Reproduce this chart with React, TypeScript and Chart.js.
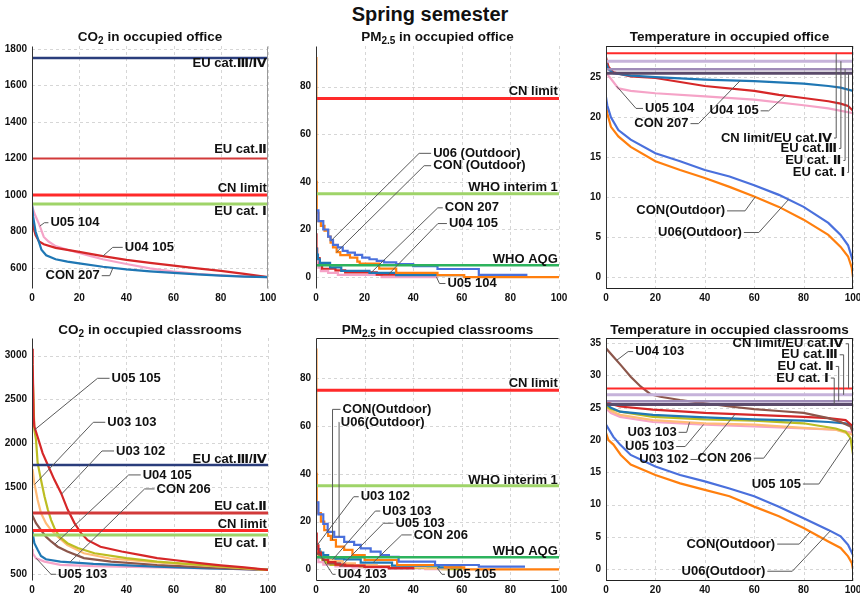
import React, { useEffect, useRef } from 'react';
import { Chart, registerables } from 'chart.js';
Chart.register(...registerables);

type Pt = [number, number];

const FONT = '"Liberation Sans", Arial, "DejaVu Sans", "Noto Sans CJK SC", sans-serif';

// ---------------- tick labels ----------------
const X_TICKS = [0, 20, 40, 60, 80, 100];
const CO2_OFFICE_Y_TICKS = [600, 800, 1000, 1200, 1400, 1600, 1800];
const PM_Y_TICKS = [0, 20, 40, 60, 80];
const TEMP_OFFICE_Y_TICKS = [0, 5, 10, 15, 20, 25];
const CO2_CLASS_Y_TICKS = [500, 1000, 1500, 2000, 2500, 3000];
const TEMP_CLASS_Y_TICKS = [0, 5, 10, 15, 20, 25, 30, 35];

// ---------------- limits ----------------
const CO2_EU_III_IV = 1750;
const CO2_EU_II = 1200;
const CO2_CN = 1000;
const CO2_EU_I = 950;
const PM_CN = 75;
const PM_WHO_IT1 = 35;
const PM_WHO_AQG = 5;
const T_CN_EU_IV = 28;
const T_EU_III = 27;
const T_EU_II = 26;
const T_EU_I = 25.5;

// ---------------- CO2 office ----------------
const co2Off_CON207: Pt[] = [[0, 950], [0.5, 880], [1.5, 800], [3, 740], [4, 700], [6, 670], [10, 648], [15, 635], [20, 625], [30, 607], [40, 593], [50, 582], [60, 573], [70, 565], [80, 558], [90, 553], [100, 550]];
const co2Off_U04105: Pt[] = [[0, 910], [0.5, 830], [1.5, 780], [3, 745], [5, 730], [10, 710], [20, 688], [30, 665], [40, 645], [50, 628], [60, 613], [70, 598], [80, 584], [90, 568], [100, 550]];
const co2Off_U05104: Pt[] = [[0, 940], [1, 900], [2, 870], [3, 840], [5, 770], [7, 745], [10, 720], [15, 700], [20, 682], [25, 665], [30, 648], [40, 622], [50, 598], [60, 580], [70, 568], [80, 560], [90, 554], [100, 550]];

// ---------------- PM2.5 office ----------------
const pmOff_CONOut: Pt[] = [[0, 92], [0.15, 40], [0.3, 27], [1, 23.5], [2, 21.5], [3.5, 19.5], [5, 17], [6, 14.5], [7, 12.5], [8.5, 10.5], [10, 9.2], [14, 8.2], [17, 6.5], [18, 5.7], [26, 3.6], [33, 1.8], [50, 0.8], [61, 0], [100, 0]];
const pmOff_U06Out: Pt[] = [[0, 28], [1, 23.5], [3, 20], [5, 17], [6, 15.5], [7, 13.5], [9, 12.5], [11, 11], [13, 10.3], [16, 9.3], [19, 8.2], [22, 7.5], [25, 6.8], [28, 6.2], [33, 5.5], [40, 4.6], [50, 3.4], [67, 0.9], [87, 0.9]];
const pmOff_CON207: Pt[] = [[0, 12], [0.3, 9.5], [0.8, 7.5], [1.6, 6], [5.8, 4.1], [10.4, 2.6], [22, 1.8], [33, 0.8], [61, 0.8]];
const pmOff_U04105: Pt[] = [[0, 18], [0.2, 12], [0.5, 8], [1.5, 5], [2.5, 3.5], [8, 2.8], [12, 2], [25, 1], [36, 1]];
const pmOff_U05104: Pt[] = [[0, 10], [0.3, 6], [1, 4], [2, 2.5], [5, 1.8], [9, 0.9], [27, 0], [50, 0]];

// ---------------- Temperature office ----------------
const tOff_CON207: Pt[] = [[0, 26.8], [1, 26], [3, 25.5], [10, 25.2], [20, 25.0], [40, 24.7], [60, 24.5], [80, 24.2], [90, 23.9], [95, 23.7], [100, 23.3]];
const tOff_U04105: Pt[] = [[0, 27.5], [1, 26.3], [3, 25.6], [10, 25.1], [20, 24.9], [40, 23.9], [60, 23.3], [70, 22.8], [80, 22.4], [90, 22.0], [95, 21.7], [98, 21.4], [100, 20.8]];
const tOff_U05104: Pt[] = [[0, 25.5], [1.5, 25], [3, 24.4], [5, 23.6], [10, 23.3], [20, 23.0], [40, 22.6], [60, 22.2], [80, 21.5], [90, 21.1], [100, 20.5]];
const tOff_CONOut: Pt[] = [[0, 21.5], [0.5, 20.5], [2, 18.8], [5, 17.6], [10, 16.3], [20, 14.5], [30, 13.4], [40, 12.4], [50, 11.3], [60, 10.1], [70, 8.8], [80, 7.2], [90, 5.3], [95, 3.8], [98, 2.6], [99.5, 1.2], [100, 0]];
const tOff_U06Out: Pt[] = [[0, 22.5], [0.5, 21.5], [2, 20], [5, 18.4], [10, 17.2], [20, 15.5], [30, 14.5], [40, 13.4], [50, 12.6], [60, 11.5], [70, 10.3], [80, 8.8], [90, 6.8], [95, 5.3], [98, 4], [100, 2]];

// ---------------- CO2 classrooms ----------------
const co2Cls_U03102: Pt[] = [[0, 3080], [0.3, 2900], [0.7, 2300], [1, 2190], [2.4, 2070], [4.5, 1885], [6.7, 1750], [9.5, 1580], [12.3, 1430], [15.1, 1240], [18, 1085], [20.8, 970], [23.6, 890], [29, 815], [38, 760], [48, 710], [53, 685], [60, 663], [70, 630], [80, 602], [90, 578], [100, 550]];
const co2Cls_U05105: Pt[] = [[0, 2950], [0.5, 2600], [1, 2150], [1.7, 2040], [2.4, 1770], [3.8, 1580], [5.3, 1390], [6.7, 1240], [8.1, 1120], [9.5, 1030], [11.6, 930], [15, 855], [19.4, 800], [26.5, 740], [40, 685], [53, 645], [60, 630], [70, 610], [80, 590], [90, 570], [100, 550]];
const co2Cls_U03103: Pt[] = [[0, 1700], [0.3, 1690], [1, 1540], [2.4, 1350], [3.8, 1200], [5.9, 1085], [8.1, 1005], [10.9, 930], [15, 835], [22, 740], [33, 680], [53, 635], [70, 605], [85, 578], [100, 550]];
const co2Cls_U04105: Pt[] = [[0, 1180], [1.7, 1085], [3.8, 1005], [5.9, 930], [8.1, 875], [10.9, 815], [15, 760], [22, 685], [33.5, 645], [53, 606], [70, 585], [85, 565], [100, 550]];
const co2Cls_CON206: Pt[] = [[0, 1000], [0.3, 970], [1, 855], [2.4, 780], [3.8, 710], [5.9, 672], [12, 645], [26, 618], [53, 588], [75, 568], [100, 552]];
const co2Cls_U05103: Pt[] = [[0, 790], [0.3, 740], [1.7, 683], [5.3, 645], [12, 608], [26, 592], [53, 578], [80, 565], [100, 552]];

// ---------------- PM2.5 classrooms ----------------
const pmCls_CONOut: Pt[] = [[0, 92], [0.15, 40], [0.3, 28], [0.7, 23.5], [2, 20], [3.4, 16.4], [5, 14], [6.1, 12.3], [8.2, 9.5], [11.6, 8.1], [15, 6.0], [20, 3.9], [33.4, 1.8], [53, 0.8], [61, 0], [100, 0]];
const pmCls_U06Out: Pt[] = [[0, 28], [1, 23], [3, 19], [4.8, 15.7], [7.5, 13.6], [11.6, 11.5], [15.7, 10.2], [18.4, 8.8], [22.5, 7.4], [26.6, 6.0], [30, 5.2], [34, 3.2], [49, 1.8], [67, 1.1], [86, 1.1]];
const pmCls_U03102: Pt[] = [[0, 15], [0.3, 10], [1, 7], [2, 5], [3, 4], [5, 3], [8, 2], [12, 1.5], [20, 1], [30, 0.5], [40, 0]];
const pmCls_U03103: Pt[] = [[0, 9], [0.5, 7.5], [2, 6], [4, 5], [6, 4], [8, 3.5], [11, 2.5], [16, 1.8], [25, 1.2], [35, 0.8], [45, 0.3], [55, 0]];
const pmCls_U05103: Pt[] = [[0, 5], [1, 3], [3, 2], [8, 1.2], [15, 0.8], [30, 0.4], [45, 0.1], [55, 0]];
const pmCls_CON206: Pt[] = [[0, 10.5], [0.5, 8.5], [1.5, 7], [3, 6], [5, 5], [8, 4.5], [11.6, 4.2], [18.4, 2.8], [31.3, 1.5], [50.5, 0.8], [60, 0.8]];
const pmCls_U04103: Pt[] = [[0, 8], [0.5, 6.5], [1.5, 5.3], [3, 4], [5, 2.5], [10, 1.5], [20, 1], [30, 0.5], [40, 0]];
const pmCls_U05105: Pt[] = [[0, 7.5], [1, 5.5], [2.5, 4], [4, 2.8], [6, 1.8], [18, 1.2], [40, 0.6], [52, 0.1], [60, 0]];

// ---------------- Temperature classrooms ----------------
const tCls_U04103: Pt[] = [[0, 34.2], [3, 32.9], [6, 31.6], [10, 29.8], [14, 28.3], [18, 27.1], [22, 26.7], [30, 26.2], [40, 25.7], [50, 25.2], [60, 24.8], [70, 24.5], [80, 24.2], [90, 23.4], [95, 22.8], [99, 22.1], [100, 21.1]];
const tCls_U03102: Pt[] = [[0, 26.1], [2, 25.6], [5.7, 25.2], [19, 24.7], [40, 24.2], [60, 23.9], [80, 23.6], [90, 23.4], [97, 23.1], [100, 22.1]];
const tCls_CON206: Pt[] = [[0, 25.6], [2, 25], [5.7, 24.4], [19, 23.9], [40, 23.5], [60, 23.2], [80, 23.0], [90, 22.8], [97, 22.6], [100, 22.2]];
const tCls_U05105: Pt[] = [[0, 25.2], [2, 24.8], [5.7, 24.4], [19, 23.6], [40, 23.2], [60, 23.0], [80, 22.6], [93, 21.8], [97, 21.3], [99, 20.3], [100, 17.8]];
const tCls_U03103: Pt[] = [[0, 25.2], [2, 24.5], [5.7, 23.9], [19, 23.1], [40, 22.6], [60, 22.4], [80, 21.9], [93, 21.6], [100, 20.8]];
const tCls_U05103: Pt[] = [[0, 24.9], [2, 24.2], [5.7, 23.6], [19, 22.8], [40, 22.4], [60, 22.1], [80, 21.8], [93, 21.6], [100, 21.1]];
const tCls_CONOut: Pt[] = [[0, 21.1], [1, 20], [3, 19.3], [6, 17.7], [10, 16.2], [20, 14.6], [30, 13.3], [40, 12.3], [50, 11.3], [60, 9.7], [70, 8.2], [80, 6.4], [90, 4.3], [95, 3.3], [98, 2.0], [99.5, 1], [100, 0]];
const tCls_U06Out: Pt[] = [[0, 22.4], [3, 20.5], [5.7, 19.3], [10, 17.7], [20, 15.9], [30, 14.6], [40, 13.6], [50, 12.5], [60, 11.3], [70, 9.7], [80, 7.9], [90, 6.1], [95, 5.1], [98, 3.8], [100, 2.2]];

// ---------------- styles ----------------
const C = {
  red: '#d62728', pink: '#f5a3c7', dblue: '#1f77b4', orange: '#ff7f0e', rblue: '#4a70dc',
  olive: '#bcbd22', peach: '#ffbb78', brown: '#8c564b',
  cn: '#ff2a2a', eu2: '#d23a3a', lgreen: '#9fd468', who: '#2db35d', navy: '#2a3d7c',
  t27: '#c6b3da', t26: '#9f8cb8', t255: '#5b4b6b',
};

interface SeriesDef { name: string; data: Pt[]; color: string; stepped?: boolean; }
interface Thr { value: number; color: string; width: number; }
interface Ann { text: string; tx: number; ty: number; side?: 'left' | 'right'; at?: number; series?: string; py?: number; mode?: 'elbow' | 'vertical'; elbow?: number; }
interface PanelDef { title: React.ReactNode; titleY: number; box: [number, number, number, number]; yMin: number; yMax: number; yTicks: number[]; series: SeriesDef[]; thresholds: Thr[]; labels: Ann[]; frame: 'none' | 'box' | 'topbottom' | 'right'; }

const Sub = ({ children }: { children: React.ReactNode }) => (
  <span style={{ fontSize: '0.74em', position: 'relative', top: '0.3em' }}>{children}</span>
);

const PANELS: PanelDef[] = [
  {
    title: <>CO<Sub>2</Sub> in occupied office</>, titleY: 37, box: [32, 46, 268, 289], yMin: 485, yMax: 1816, yTicks: CO2_OFFICE_Y_TICKS, frame: 'right',
    series: [
      { name: 'U05 104', data: co2Off_U05104, color: C.pink },
      { name: 'U04 105', data: co2Off_U04105, color: C.red },
      { name: 'CON 207', data: co2Off_CON207, color: C.dblue },
    ],
    thresholds: [
      { value: CO2_EU_III_IV, color: C.navy, width: 2.5 }, { value: CO2_EU_II, color: C.eu2, width: 2 },
      { value: CO2_CN, color: C.cn, width: 3 }, { value: CO2_EU_I, color: C.lgreen, width: 3 },
    ],
    labels: [
      { text: 'EU cat.Ⅲ/Ⅳ', tx: 99.5, ty: 1718, side: 'right' },
      { text: 'EU cat.Ⅱ', tx: 99.5, ty: 1247, side: 'right' },
      { text: 'CN limit', tx: 99.5, ty: 1037, side: 'right' },
      { text: 'EU cat. Ⅰ', tx: 99.5, ty: 908, side: 'right' },
      { text: 'U05 104', tx: 7.8, ty: 848, side: 'left', at: 3.3, series: 'U05 104', elbow: 4 },
      { text: 'U04 105', tx: 39.3, ty: 713, side: 'left', at: 30, series: 'U04 105', elbow: 10 },
      { text: 'CON 207', tx: 28.7, ty: 558, side: 'right', at: 34.3, series: 'CON 207', elbow: 8 },
    ],
  },
  {
    title: <>PM<Sub>2.5</Sub> in occupied office</>, titleY: 37, box: [316, 46, 559, 289], yMin: -5.0, yMax: 97.1, yTicks: PM_Y_TICKS, frame: 'none',
    series: [
      { name: 'U05 104', data: pmOff_U05104, color: C.pink, stepped: true },
      { name: 'U04 105', data: pmOff_U04105, color: C.red, stepped: true },
      { name: 'CON 207', data: pmOff_CON207, color: C.dblue, stepped: true },
      { name: 'CON (Outdoor)', data: pmOff_CONOut, color: C.orange, stepped: true },
      { name: 'U06 (Outdoor)', data: pmOff_U06Out, color: C.rblue, stepped: true },
    ],
    thresholds: [
      { value: PM_CN, color: C.cn, width: 3 }, { value: PM_WHO_IT1, color: C.lgreen, width: 3 }, { value: PM_WHO_AQG, color: C.who, width: 2.5 },
    ],
    labels: [
      { text: 'CN limit', tx: 99.5, ty: 77.9, side: 'right' },
      { text: 'WHO interim 1', tx: 99.5, ty: 37.5, side: 'right' },
      { text: 'WHO AQG', tx: 99.5, ty: 7.4, side: 'right' },
      { text: 'U06 (Outdoor)', tx: 48.2, ty: 52, side: 'left', at: 6.4, series: 'U06 (Outdoor)', elbow: 12 },
      { text: 'CON (Outdoor)', tx: 48.2, ty: 46.8, side: 'left', at: 8.5, series: 'CON (Outdoor)', elbow: 7 },
      { text: 'CON 207', tx: 53, ty: 29.1, side: 'left', at: 22.6, series: 'CON 207', elbow: 5 },
      { text: 'U04 105', tx: 54.7, ty: 22.5, side: 'left', at: 29.7, series: 'U04 105', elbow: 9 },
      { text: 'U05 104', tx: 54.1, ty: -2.7, side: 'left', at: 49.6, series: 'U05 104', elbow: 6 },
    ],
  },
  {
    title: <>Temperature in occupied office</>, titleY: 37, box: [606, 46, 853, 289], yMin: -1.46, yMax: 28.9, yTicks: TEMP_OFFICE_Y_TICKS, frame: 'box',
    series: [
      { name: 'U05 104', data: tOff_U05104, color: C.pink },
      { name: 'U04 105', data: tOff_U04105, color: C.red },
      { name: 'CON 207', data: tOff_CON207, color: C.dblue },
      { name: 'CON(Outdoor)', data: tOff_CONOut, color: C.orange },
      { name: 'U06(Outdoor)', data: tOff_U06Out, color: C.rblue },
    ],
    thresholds: [
      { value: T_CN_EU_IV, color: C.cn, width: 2 }, { value: T_EU_III, color: C.t27, width: 3 },
      { value: T_EU_II, color: C.t26, width: 2.5 }, { value: T_EU_I, color: C.t255, width: 3 },
    ],
    labels: [
      { text: 'CN limit/EU cat.Ⅳ', tx: 91.5, ty: 17.4, side: 'right', at: 93.2, py: T_CN_EU_IV, mode: 'vertical' },
      { text: 'EU cat.Ⅲ', tx: 93.5, ty: 16.1, side: 'right', at: 95.1, py: T_EU_III, mode: 'vertical' },
      { text: 'EU cat. Ⅱ', tx: 95.3, ty: 14.6, side: 'right', at: 96.8, py: T_EU_II, mode: 'vertical' },
      { text: 'EU cat. Ⅰ', tx: 96.9, ty: 13.1, side: 'right', at: 98.2, py: T_EU_I, mode: 'vertical' },
      { text: 'U05 104', tx: 15.8, ty: 21.1, side: 'left', at: 4.3, series: 'U05 104', elbow: 7 },
      { text: 'CON 207', tx: 33.4, ty: 19.2, side: 'right', at: 54.3, series: 'CON 207', elbow: 8 },
      { text: 'U04 105', tx: 61.8, ty: 20.8, side: 'right', at: 72.6, series: 'U04 105', elbow: 8 },
      { text: 'CON(Outdoor)', tx: 48.2, ty: 8.3, side: 'right', at: 60.4, series: 'CON(Outdoor)', elbow: 18 },
      { text: 'U06(Outdoor)', tx: 55, ty: 5.6, side: 'right', at: 73.9, series: 'U06(Outdoor)', elbow: 15 },
    ],
  },
  {
    title: <>CO<Sub>2</Sub> in occupied classrooms</>, titleY: 330, box: [32, 338, 268, 581], yMin: 423, yMax: 3202, yTicks: CO2_CLASS_Y_TICKS, frame: 'none',
    series: [
      { name: 'U05 103', data: co2Cls_U05103, color: C.pink },
      { name: 'CON 206', data: co2Cls_CON206, color: C.dblue },
      { name: 'U04 105', data: co2Cls_U04105, color: C.brown },
      { name: 'U03 103', data: co2Cls_U03103, color: C.peach },
      { name: 'U05 105', data: co2Cls_U05105, color: C.olive },
      { name: 'U03 102', data: co2Cls_U03102, color: C.red },
    ],
    thresholds: [
      { value: CO2_EU_III_IV, color: C.navy, width: 2.5 }, { value: CO2_EU_II, color: C.eu2, width: 3 },
      { value: CO2_CN, color: C.cn, width: 3 }, { value: CO2_EU_I, color: C.lgreen, width: 3 },
    ],
    labels: [
      { text: 'EU cat.Ⅲ/Ⅳ', tx: 99.5, ty: 1819, side: 'right' },
      { text: 'EU cat.Ⅱ', tx: 99.5, ty: 1274, side: 'right' },
      { text: 'CN limit', tx: 99.5, ty: 1072, side: 'right' },
      { text: 'EU cat. Ⅰ', tx: 99.5, ty: 854, side: 'right' },
      { text: 'U05 105', tx: 33.7, ty: 2741, side: 'left', at: 1.0, series: 'U05 105', elbow: 12 },
      { text: 'U03 103', tx: 31.9, ty: 2238, side: 'left', at: 1.1, series: 'U03 103', elbow: 12 },
      { text: 'U03 102', tx: 35.6, ty: 1910, side: 'left', at: 12.5, series: 'U03 102', elbow: 12 },
      { text: 'U04 105', tx: 46.9, ty: 1636, side: 'left', at: 9.6, series: 'U04 105', elbow: 12 },
      { text: 'CON 206', tx: 52.8, ty: 1476, side: 'left', at: 16, series: 'CON 206', elbow: 10 },
      { text: 'U05 103', tx: 11, ty: 500, side: 'left', at: 1.8, series: 'U05 103', elbow: 5 },
    ],
  },
  {
    title: <>PM<Sub>2.5</Sub> in occupied classrooms</>, titleY: 330, box: [316, 338, 559, 581], yMin: -4.9, yMax: 96.9, yTicks: PM_Y_TICKS, frame: 'topbottom',
    series: [
      { name: 'U05 103', data: pmCls_U05103, color: C.pink, stepped: true },
      { name: 'U05 105', data: pmCls_U05105, color: C.olive, stepped: true },
      { name: 'U04 103', data: pmCls_U04103, color: C.brown, stepped: true },
      { name: 'U03 103', data: pmCls_U03103, color: C.peach, stepped: true },
      { name: 'CON 206', data: pmCls_CON206, color: C.dblue, stepped: true },
      { name: 'U03 102', data: pmCls_U03102, color: C.red, stepped: true },
      { name: 'CON(Outdoor)', data: pmCls_CONOut, color: C.orange, stepped: true },
      { name: 'U06(Outdoor)', data: pmCls_U06Out, color: C.rblue, stepped: true },
    ],
    thresholds: [
      { value: PM_CN, color: C.cn, width: 3 }, { value: PM_WHO_IT1, color: C.lgreen, width: 3 }, { value: PM_WHO_AQG, color: C.who, width: 2.5 },
    ],
    labels: [
      { text: 'CN limit', tx: 99.5, ty: 77.7, side: 'right' },
      { text: 'WHO interim 1', tx: 99.5, ty: 37.2, side: 'right' },
      { text: 'WHO AQG', tx: 99.5, ty: 7.4, side: 'right' },
      { text: 'CON(Outdoor)', tx: 10.9, ty: 67.0, side: 'left', at: 6.8, series: 'CON(Outdoor)', mode: 'vertical' },
      { text: 'U06(Outdoor)', tx: 10.2, ty: 61.6, side: 'left', at: 9.5, series: 'U06(Outdoor)', mode: 'vertical' },
      { text: 'U03 102', tx: 18.4, ty: 30.4, side: 'left', at: 0.4, series: 'U03 102', elbow: 5 },
      { text: 'U03 103', tx: 27.3, ty: 24.4, side: 'left', at: 6.8, series: 'U03 103', elbow: 5 },
      { text: 'U05 103', tx: 32.7, ty: 19.3, side: 'left', at: 10.2, series: 'U05 103', elbow: 10 },
      { text: 'CON 206', tx: 40.2, ty: 14.4, side: 'left', at: 23.5, series: 'CON 206', elbow: 10 },
      { text: 'U04 103', tx: 8.9, ty: -2.1, side: 'left', at: 1.4, series: 'U04 103', elbow: 3 },
      { text: 'U05 105', tx: 53.9, ty: -2.1, side: 'left', at: 49.8, series: 'U05 105', elbow: 3 },
    ],
  },
  {
    title: <>Temperature in occupied classrooms</>, titleY: 330, box: [606, 338, 853, 581], yMin: -1.81, yMax: 35.8, yTicks: TEMP_CLASS_Y_TICKS, frame: 'box',
    series: [
      { name: 'U05 103', data: tCls_U05103, color: C.pink },
      { name: 'U03 103', data: tCls_U03103, color: C.peach },
      { name: 'U05 105', data: tCls_U05105, color: C.olive },
      { name: 'CON 206', data: tCls_CON206, color: C.dblue },
      { name: 'U03 102', data: tCls_U03102, color: C.red },
      { name: 'U04 103', data: tCls_U04103, color: C.brown },
      { name: 'CON(Outdoor)', data: tCls_CONOut, color: C.orange },
      { name: 'U06(Outdoor)', data: tCls_U06Out, color: C.rblue },
    ],
    thresholds: [
      { value: T_CN_EU_IV, color: C.cn, width: 2 }, { value: T_EU_III, color: C.t27, width: 3 },
      { value: T_EU_II, color: C.t26, width: 2.5 }, { value: T_EU_I, color: C.t255, width: 3 },
    ],
    labels: [
      { text: 'CN limit/EU cat.Ⅳ', tx: 96.2, ty: 34.9, side: 'right', at: 98.2, py: T_CN_EU_IV, mode: 'vertical' },
      { text: 'EU cat.Ⅲ', tx: 93.8, ty: 33.2, side: 'right', at: 96.2, py: T_EU_III, mode: 'vertical' },
      { text: 'EU cat. Ⅱ', tx: 92.2, ty: 31.4, side: 'right', at: 94.2, py: T_EU_II, mode: 'vertical' },
      { text: 'EU cat. Ⅰ', tx: 90.2, ty: 29.6, side: 'right', at: 92.4, py: T_EU_I, mode: 'vertical' },
      { text: 'U04 103', tx: 11.8, ty: 33.7, side: 'left', at: 4.3, series: 'U04 103', elbow: 5 },
      { text: 'U03 103', tx: 28.6, ty: 21.2, side: 'right', at: 33.8, series: 'U03 103', elbow: 8 },
      { text: 'U05 103', tx: 27.6, ty: 19.0, side: 'right', at: 39.5, series: 'U05 103', elbow: 9 },
      { text: 'U03 102', tx: 33.4, ty: 17.0, side: 'right', at: 52.3, series: 'U03 102', elbow: 7 },
      { text: 'CON 206', tx: 59, ty: 17.2, side: 'right', at: 75.3, series: 'CON 206', elbow: 10 },
      { text: 'U05 105', tx: 78.9, ty: 13.2, side: 'right', at: 98.9, series: 'U05 105', elbow: 16 },
      { text: 'CON(Outdoor)', tx: 68.5, ty: 3.9, side: 'right', at: 82.7, series: 'CON(Outdoor)', elbow: 22 },
      { text: 'U06(Outdoor)', tx: 64.5, ty: -0.3, side: 'right', at: 90.8, series: 'U06(Outdoor)', elbow: 25 },
    ],
  },
];

function valueAt(data: Pt[], x: number, stepped: boolean): number {
  if (x <= data[0][0]) return data[0][1];
  for (let i = 1; i < data.length; i++) {
    const [x0, y0] = data[i - 1];
    const [x1, y1] = data[i];
    if (x <= x1) {
      if (stepped) return x === x1 ? y1 : y0;
      return y0 + ((y1 - y0) * (x - x0)) / (x1 - x0);
    }
  }
  return data[data.length - 1][1];
}

const PADL = 34;
const PADT = 12;
const PADR = 14;
const AXH = 20;

function makePlugin(p: PanelDef) {
  return {
    id: 'panelDeco',
    beforeDatasetsDraw(chart: any) {
      const { ctx, chartArea: a, scales } = chart;
      const xs = scales.x, ys = scales.y;
      ctx.save();
      ctx.strokeStyle = '#d6d6d6';
      ctx.lineWidth = 1;
      ctx.setLineDash([3, 3]);
      X_TICKS.forEach((v) => {
        if (v === 0) return;
        const X = Math.round(xs.getPixelForValue(v)) + 0.5;
        ctx.beginPath(); ctx.moveTo(X, a.top); ctx.lineTo(X, a.bottom); ctx.stroke();
      });
      p.yTicks.forEach((v) => {
        const Y = Math.round(ys.getPixelForValue(v)) + 0.5;
        ctx.beginPath(); ctx.moveTo(a.left, Y); ctx.lineTo(a.right, Y); ctx.stroke();
      });
      ctx.restore();
    },
    afterDatasetsDraw(chart: any) {
      const { ctx, chartArea: a } = chart;
      ctx.save();
      ctx.lineWidth = 1;
      const L = Math.round(a.left) + 0.5, R = Math.round(a.right) - 0.5, T = Math.round(a.top) + 0.5, B = Math.round(a.bottom) - 0.5;
      if (p.frame === 'right') {
        ctx.strokeStyle = '#9a9a9a';
        ctx.beginPath(); ctx.moveTo(R, T); ctx.lineTo(R, B); ctx.stroke();
      }
      ctx.strokeStyle = '#222';
      if (p.frame === 'box') {
        ctx.strokeRect(L, T, R - L, B - T);
      } else if (p.frame === 'topbottom') {
        ctx.beginPath(); ctx.moveTo(L, T); ctx.lineTo(R, T); ctx.moveTo(L, B); ctx.lineTo(R, B); ctx.stroke();
      }
      ctx.strokeStyle = '#333';
      ctx.beginPath(); ctx.moveTo(L, T); ctx.lineTo(L, B); ctx.stroke();
      ctx.restore();
    },
    afterDraw(chart: any) {
      const { ctx, scales } = chart;
      const xs = scales.x, ys = scales.y;
      ctx.save();
      ctx.font = `bold 13px ${FONT}`;
      ctx.textBaseline = 'middle';
      p.labels.forEach((an) => {
        const X = xs.getPixelForValue(an.tx);
        const Y = ys.getPixelForValue(an.ty);
        const side = an.side || 'left';
        if (an.at !== undefined) {
          let pv = an.py ?? 0;
          if (an.series) {
            const s = p.series.find((q) => q.name === an.series);
            if (s) pv = valueAt(s.data, an.at, !!s.stepped);
          }
          const PX = xs.getPixelForValue(an.at);
          const PY = ys.getPixelForValue(pv);
          const sx = side === 'left' ? X - 2 : X + 2;
          const e = an.elbow ?? 8;
          const ex = an.mode === 'vertical' ? PX : side === 'left' ? sx - e : sx + e;
          ctx.strokeStyle = '#5a5a5a';
          ctx.lineWidth = 1;
          ctx.beginPath(); ctx.moveTo(sx, Y); ctx.lineTo(ex, Y); ctx.lineTo(PX, PY); ctx.stroke();
        }
        ctx.textAlign = side;
        ctx.fillStyle = '#111';
        ctx.fillText(an.text, X, Y);
      });
      ctx.restore();
    },
  };
}

function Panel({ p }: { p: PanelDef }) {
  const ref = useRef<HTMLCanvasElement>(null);
  const [l, t, r, b] = p.box;
  const w = PADL + (r - l) + PADR;
  const h = PADT + (b - t) + AXH;
  useEffect(() => {
    if (!ref.current) return;
    const tickFont = { family: FONT, size: 10, weight: 'bold' as const };
    const plain = (v: any) => String(v);
    const datasets: any[] = [];
    p.thresholds.forEach((th) => {
      datasets.push({
        data: [{ x: 0, y: th.value }, { x: 100, y: th.value }],
        borderColor: th.color, borderWidth: th.width, pointRadius: 0, fill: false, order: 0, borderCapStyle: 'butt',
      });
    });
    p.series.forEach((s, i) => {
      datasets.push({
        data: s.data.map(([x, y]) => ({ x, y })),
        borderColor: s.color, borderWidth: 2.2, pointRadius: 0, fill: false, tension: 0,
        stepped: s.stepped ? 'before' : false, order: 10 + p.series.length - i, borderJoinStyle: 'miter',
      });
    });
    const chart = new Chart(ref.current, {
      type: 'line',
      data: { datasets },
      options: {
        responsive: false,
        animation: false,
        devicePixelRatio: 1,
        events: [],
        layout: { padding: { left: 0, top: PADT, right: PADR, bottom: 0 } },
        plugins: { legend: { display: false }, tooltip: { enabled: false }, title: { display: false } },
        scales: {
          x: {
            type: 'linear', min: 0, max: 100,
            grid: { display: false, drawTicks: false }, border: { display: false },
            afterBuildTicks: (ax: any) => { ax.ticks = X_TICKS.map((v) => ({ value: v })); },
            afterFit: (ax: any) => { ax.height = AXH; },
            ticks: { autoSkip: false, maxRotation: 0, minRotation: 0, padding: 3, color: '#111', font: tickFont, callback: plain },
          },
          y: {
            type: 'linear', min: p.yMin, max: p.yMax,
            grid: { display: false, drawTicks: false }, border: { display: false },
            afterBuildTicks: (ax: any) => { ax.ticks = p.yTicks.map((v) => ({ value: v })); },
            afterFit: (ax: any) => { ax.width = PADL; },
            ticks: { autoSkip: false, padding: 5, color: '#111', font: tickFont, callback: plain },
          },
        },
      } as any,
      plugins: [makePlugin(p)],
    });
    return () => chart.destroy();
  }, []);
  return (
    <>
      <canvas ref={ref} width={w} height={h} style={{ position: 'absolute', left: l - PADL, top: t - PADT, width: w, height: h }} />
      <div style={{ position: 'absolute', left: l - 20, width: r - l + 40, top: p.titleY - 9, height: 18, lineHeight: '18px', textAlign: 'center', fontFamily: FONT, fontWeight: 'bold', fontSize: 13.5, color: '#111', whiteSpace: 'nowrap' }}>
        {p.title}
      </div>
    </>
  );
}

export default function App() {
  useEffect(() => {
    document.body.style.margin = '0';
    document.body.style.background = '#fff';
  }, []);
  return (
    <div style={{ position: 'absolute', left: 0, top: 0, width: 860, height: 597, background: '#fff', overflow: 'hidden' }}>
      <div style={{ position: 'absolute', left: 0, top: 2, width: 860, textAlign: 'center', fontFamily: FONT, fontWeight: 'bold', fontSize: 20, lineHeight: '24px', color: '#111' }}>
        Spring semester
      </div>
      {PANELS.map((p, i) => (
        <Panel key={i} p={p} />
      ))}
    </div>
  );
}
